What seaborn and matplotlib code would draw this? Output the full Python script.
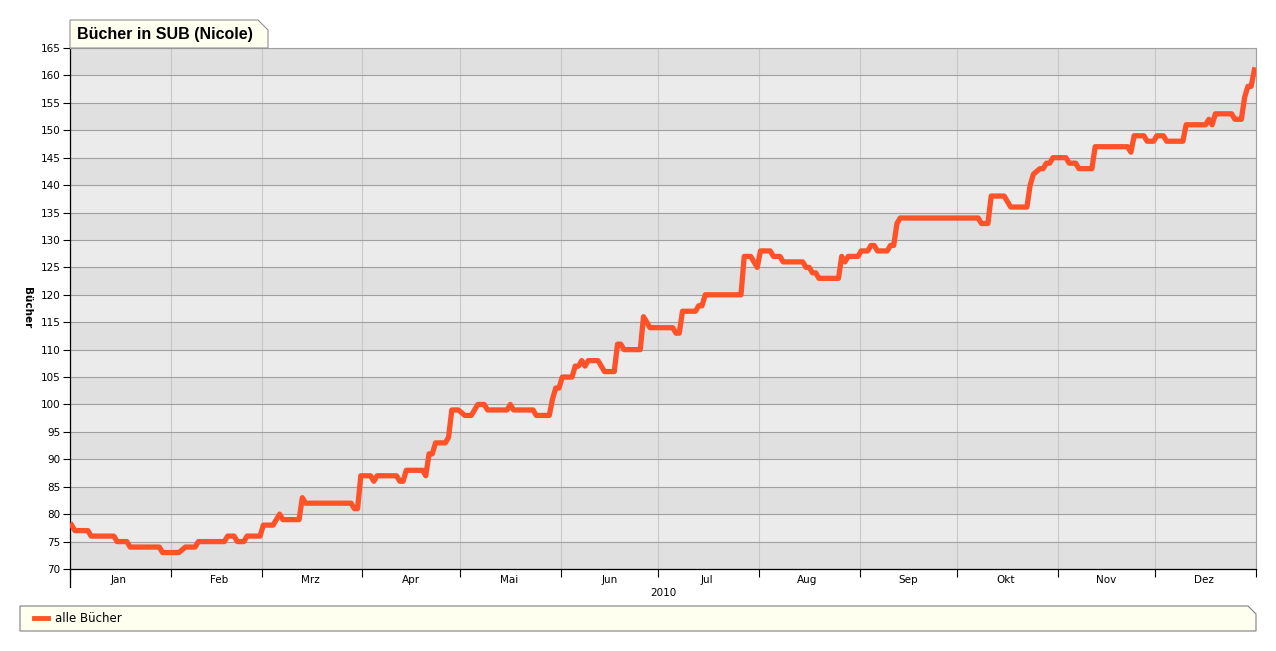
import pandas as pd
import matplotlib
matplotlib.use('Agg')
import matplotlib.pyplot as plt
import matplotlib.dates as mdates
from matplotlib.patches import Polygon
from matplotlib.lines import Line2D
import seaborn as sns

# Daten: Tag im Jahr 2010 (0 = 1. Januar) und Anzahl Bücher im SUB
tage = [0, 1, 5, 6, 13, 14, 17, 18, 27, 28, 33, 35, 38, 39, 47, 48, 50, 51, 53, 54,
        58, 59, 62, 64, 65, 70, 71, 72, 86, 87, 88, 89, 92, 93, 94, 100, 101, 102, 103, 108,
        109, 110, 111, 112, 115, 116, 117, 119, 121, 123, 125, 127, 128, 134, 135, 136, 142, 143, 147, 148,
        149, 150, 151, 154, 155, 156, 157, 158, 159, 162, 163, 164, 167, 168, 169, 170, 175, 176, 178, 185,
        186, 187, 188, 192, 193, 194, 195, 206, 207, 209, 210, 211, 212, 215, 216, 218, 219, 225, 226, 227,
        228, 229, 230, 236, 237, 238, 239, 242, 243, 245, 246, 247, 248, 251, 252, 253, 254, 255, 279, 280,
        282, 283, 287, 289, 294, 295, 296, 298, 299, 300, 301, 302, 306, 307, 309, 310, 314, 315, 325, 326,
        327, 330, 331, 333, 334, 336, 337, 342, 343, 349, 350, 351, 352, 357, 358, 360, 361, 362, 363, 364]
buecher = [78, 77, 77, 76, 76, 75, 75, 74, 74, 73, 73, 74, 74, 75, 75, 76, 76, 75, 75, 76,
           76, 78, 78, 80, 79, 79, 83, 82, 82, 81, 81, 87, 87, 86, 87, 87, 86, 86, 88, 88,
           87, 91, 91, 93, 93, 94, 99, 99, 98, 98, 100, 100, 99, 99, 100, 99, 99, 98, 98, 101,
           103, 103, 105, 105, 107, 107, 108, 107, 108, 108, 107, 106, 106, 111, 111, 110, 110, 116, 114, 114,
           113, 113, 117, 117, 118, 118, 120, 120, 127, 127, 126, 125, 128, 128, 127, 127, 126, 126, 125, 125,
           124, 124, 123, 123, 127, 126, 127, 127, 128, 128, 129, 129, 128, 128, 129, 129, 133, 134, 134, 133,
           133, 138, 138, 136, 136, 140, 142, 143, 143, 144, 144, 145, 145, 144, 144, 143, 143, 147, 147, 146,
           149, 149, 148, 148, 149, 149, 148, 148, 151, 151, 152, 151, 153, 153, 152, 152, 156, 158, 158, 161]
monate = ['Jan', 'Feb', 'Mrz', 'Apr', 'Mai', 'Jun', 'Jul', 'Aug', 'Sep', 'Okt', 'Nov', 'Dez']
y_ticks = list(range(70, 166, 5))

# Werte jeweils zur Tagesmitte
df = pd.DataFrame({
    'datum': pd.Timestamp('2010-01-01 12:00') + pd.to_timedelta(tage, unit='D'),
    'buecher': buecher,
})

W, H = 1276, 651
linie_farbe = '#ff5229'
creme = '#fffff0'


def fx(x):
    return x / W


def fy(y):
    return 1 - y / H


fig = plt.figure(figsize=(W / 100, H / 100), dpi=100)
ax = fig.add_axes([fx(70), fy(569), fx(1256) - fx(70), fy(48) - fy(569)])

# abwechselnde Hintergrundbänder
for i, lo in enumerate(y_ticks[:-1]):
    ax.axhspan(lo, lo + 5, color='#e0e0e0' if i % 2 == 0 else '#ebebeb', zorder=0, lw=0)

sns.lineplot(data=df, x='datum', y='buecher', color=linie_farbe, linewidth=3.8,
             ax=ax, zorder=3, legend=False)

start, ende = pd.Timestamp('2010-01-01'), pd.Timestamp('2011-01-01')
ax.set_xlim(start, ende)
ax.set_ylim(70, 165)
ax.set_yticks(y_ticks)
ax.tick_params(axis='y', labelsize=7.5, length=5, width=0.8, pad=2)

ax.xaxis.set_major_locator(mdates.MonthLocator())
ax.xaxis.set_major_formatter(plt.NullFormatter())
ax.xaxis.set_minor_locator(mdates.MonthLocator(bymonthday=16))
ax.xaxis.set_minor_formatter(plt.FuncFormatter(lambda v, p: monate[mdates.num2date(v).month - 1]))
ax.tick_params(axis='x', which='major', length=6, width=0.8)
ax.tick_params(axis='x', which='minor', length=0, labelsize=7.5, pad=4)

ax.grid(axis='y', color='#a0a0a0', lw=0.8, zorder=1)
ax.grid(axis='x', which='major', color='#c8c8c8', lw=0.8, zorder=1)
ax.set_axisbelow(True)
ax.set_xlabel('')
ax.set_ylabel('')
for s in ['top', 'right']:
    ax.spines[s].set_color('#a0a0a0')
for s in ['left', 'bottom']:
    ax.spines[s].set_color('black')
    ax.spines[s].set_linewidth(0.9)

# verlängerter linker Strich unten
fig.add_artist(Line2D([fx(70), fx(70)], [fy(569), fy(587)], color='black', lw=0.9))

fig.text(fx(663), fy(593), '2010', ha='center', va='center', fontsize=7.5)
fig.text(fx(27), fy(308), 'Bücher', ha='center', va='center', rotation=-90,
         fontsize=7.5, fontweight='bold')

# Titel-Reiter
tab = [(70, 48), (70, 20), (258, 20), (268, 30), (268, 48)]
fig.add_artist(Polygon([(fx(x), fy(y)) for x, y in tab], closed=True, facecolor=creme,
                       edgecolor='#909090', lw=0.8, transform=fig.transFigure))
fig.text(fx(77), fy(34), 'Bücher in SUB (Nicole)', ha='left', va='center',
         fontsize=11.5, fontweight='bold', family='Liberation Sans')

# Legende
leg = [(20, 631), (20, 606), (1248, 606), (1256, 614), (1256, 631)]
fig.add_artist(Polygon([(fx(x), fy(y)) for x, y in leg], closed=True, facecolor=creme,
                       edgecolor='#808080', lw=0.8, transform=fig.transFigure))
fig.add_artist(Line2D([fx(34), fx(48)], [fy(618), fy(618)], color=linie_farbe, lw=3.5))
fig.text(fx(55), fy(618), 'alle Bücher', ha='left', va='center', fontsize=8.5)

fig.savefig('out.png', dpi=100)
